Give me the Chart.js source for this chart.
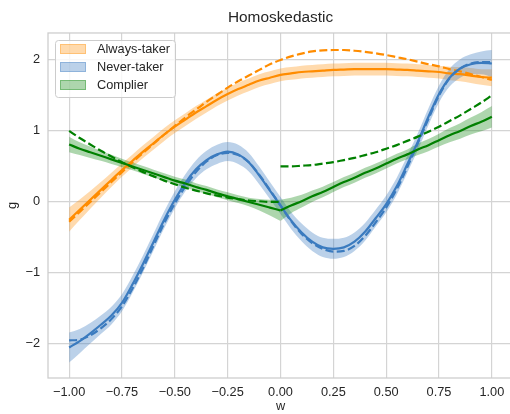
<!DOCTYPE html>
<html>
<head>
<meta charset="utf-8">
<script src="https://cdn.jsdelivr.net/npm/chart.js@4"></script>
<style>
  html, body { margin: 0; padding: 0; overflow: hidden; background: #ffffff; width: 510px; height: 414px; }
  canvas { display: block; }
</style>
</head>
<body>
<canvas id="chart" width="514" height="414" style="width:514px;height:414px"></canvas>
<script>
// Evaluation grid for w
const wGrid = [-1.00, -0.95, -0.90, -0.85, -0.80, -0.75, -0.70, -0.65, -0.60, -0.55,
  -0.50, -0.45, -0.40, -0.35, -0.30, -0.25, -0.20, -0.15, -0.10, -0.05,
  0.00, 0.05, 0.10, 0.15, 0.20, 0.25, 0.30, 0.35, 0.40, 0.45,
  0.50, 0.55, 0.60, 0.65, 0.70, 0.75, 0.80, 0.85, 0.90, 0.95, 1.00];
const wLeft = [-1.00, -0.95, -0.90, -0.85, -0.80, -0.75, -0.70, -0.65, -0.60, -0.55,
  -0.50, -0.45, -0.40, -0.35, -0.30, -0.25, -0.20, -0.15, -0.10, -0.05, 0.00];
const wRight = [0.00, 0.05, 0.10, 0.15, 0.20, 0.25, 0.30, 0.35, 0.40, 0.45,
  0.50, 0.55, 0.60, 0.65, 0.70, 0.75, 0.80, 0.85, 0.90, 0.95, 1.00];

// Always-taker: estimate, true curve, band half-width
const alwaysFit = [-0.25, -0.11, 0.03, 0.17, 0.31, 0.45, 0.58, 0.71, 0.83, 0.95,
  1.06, 1.16, 1.26, 1.35, 1.44, 1.52, 1.59, 1.65, 1.71, 1.75,
  1.79, 1.81, 1.83, 1.84, 1.85, 1.86, 1.865, 1.87, 1.87, 1.87,
  1.87, 1.865, 1.86, 1.85, 1.84, 1.83, 1.81, 1.80, 1.78, 1.76, 1.75];
const alwaysTrue = [-0.28, -0.14, 0.00, 0.14, 0.28, 0.42, 0.56, 0.69, 0.82, 0.95,
  1.07, 1.19, 1.30, 1.41, 1.51, 1.61, 1.70, 1.78, 1.86, 1.94,
  2.00, 2.05, 2.09, 2.12, 2.135, 2.14, 2.14, 2.13, 2.115, 2.095,
  2.07, 2.04, 2.01, 1.975, 1.94, 1.91, 1.87, 1.84, 1.80, 1.76, 1.72];
const alwaysHalf = [0.17, 0.145, 0.125, 0.11, 0.10, 0.095, 0.09, 0.09, 0.09, 0.09,
  0.09, 0.09, 0.09, 0.09, 0.09, 0.09, 0.09, 0.09, 0.09, 0.09,
  0.09, 0.09, 0.09, 0.09, 0.09, 0.09, 0.09, 0.09, 0.09, 0.09,
  0.09, 0.09, 0.09, 0.09, 0.09, 0.09, 0.095, 0.10, 0.105, 0.11, 0.12];

// Never-taker
const neverFit = [-2.05, -1.96, -1.85, -1.73, -1.60, -1.42, -1.16, -0.87, -0.56, -0.25,
  0.03, 0.27, 0.46, 0.59, 0.67, 0.71, 0.67, 0.56, 0.37, 0.16,
  -0.05, -0.26, -0.43, -0.56, -0.64, -0.66, -0.64, -0.56, -0.42, -0.23,
  -0.03, 0.22, 0.53, 0.85, 1.20, 1.52, 1.75, 1.88, 1.94, 1.96, 1.95];
const neverTrue = [-1.95, -1.94, -1.88, -1.78, -1.65, -1.47, -1.22, -0.93, -0.61, -0.30,
  -0.02, 0.22, 0.42, 0.57, 0.66, 0.69, 0.66, 0.56, 0.38, 0.17,
  -0.05, -0.27, -0.45, -0.58, -0.66, -0.70, -0.69, -0.62, -0.48, -0.29,
  -0.08, 0.18, 0.49, 0.83, 1.17, 1.50, 1.74, 1.88, 1.95, 1.97, 1.97];
const neverHalf = [0.21, 0.17, 0.145, 0.13, 0.125, 0.12, 0.12, 0.12, 0.12, 0.12,
  0.12, 0.12, 0.125, 0.13, 0.135, 0.135, 0.135, 0.13, 0.125, 0.12,
  0.12, 0.12, 0.125, 0.13, 0.135, 0.14, 0.135, 0.13, 0.125, 0.12,
  0.12, 0.12, 0.12, 0.12, 0.12, 0.12, 0.125, 0.13, 0.14, 0.16, 0.19];

// Complier (kink / jump at w = 0)
const complierFitLeft = [0.81, 0.75, 0.70, 0.65, 0.60, 0.55, 0.50, 0.45, 0.40, 0.35,
  0.30, 0.26, 0.21, 0.17, 0.12, 0.08, 0.04, 0.00, -0.04, -0.08, -0.12];
const complierFitRight = [-0.12, -0.05, 0.01, 0.08, 0.14, 0.21, 0.28, 0.34, 0.41, 0.47,
  0.54, 0.61, 0.67, 0.74, 0.80, 0.87, 0.94, 1.00, 1.07, 1.13, 1.20];
const complierTrueLeft = [1.00, 0.90, 0.81, 0.72, 0.64, 0.56, 0.49, 0.42, 0.36, 0.30,
  0.25, 0.20, 0.16, 0.12, 0.09, 0.06, 0.04, 0.02, 0.01, 0.00, 0.00];
const complierTrueRight = [0.50, 0.50, 0.51, 0.52, 0.54, 0.56, 0.59, 0.62, 0.66, 0.70,
  0.75, 0.80, 0.86, 0.92, 0.99, 1.06, 1.14, 1.22, 1.31, 1.40, 1.50];
const complierHalfLeft = [0.11, 0.09, 0.08, 0.07, 0.065, 0.06, 0.055, 0.055, 0.055, 0.055,
  0.055, 0.055, 0.055, 0.055, 0.055, 0.055, 0.055, 0.06, 0.08, 0.11, 0.15];
const complierHalfRight = [0.15, 0.11, 0.09, 0.08, 0.075, 0.07, 0.07, 0.07, 0.07, 0.07,
  0.07, 0.07, 0.07, 0.08, 0.085, 0.09, 0.10, 0.11, 0.12, 0.135, 0.15];

const xTicks = [-1.00, -0.75, -0.50, -0.25, 0.00, 0.25, 0.50, 0.75, 1.00];
const yTicks = [-2, -1, 0, 1, 2];
const legendLabels = ['Always-taker', 'Never-taker', 'Complier'];

const FONT = "'Liberation Sans', Arial, sans-serif";
const TEXT = '#262626';
const colors = {
  always: { line: '#ff8c00', band: 'rgba(255,140,0,0.32)' },
  never:  { line: '#3b7bbf', band: 'rgba(59,123,191,0.35)' },
  comp:   { line: '#008000', band: 'rgba(0,128,0,0.32)' }
};

const pts = (xs, ys) => xs.map((x, i) => ({ x: x, y: ys[i] }));
const shift = (ys, hw, s) => ys.map((y, i) => y + s * hw[i]);

const datasets = [];
function addBand(xs, fit, hw, color, order) {
  datasets.push({
    data: pts(xs, shift(fit, hw, -1)), borderWidth: 0, borderColor: 'transparent',
    pointRadius: 0, fill: false, order: order, cubicInterpolationMode: 'monotone'
  });
  datasets.push({
    data: pts(xs, shift(fit, hw, 1)), borderWidth: 0, borderColor: 'transparent',
    backgroundColor: color, pointRadius: 0, fill: '-1', order: order,
    cubicInterpolationMode: 'monotone'
  });
}
function addLine(xs, ys, color, dashed, order) {
  datasets.push({
    data: pts(xs, ys), borderColor: color, borderWidth: 2.2,
    borderDash: dashed ? [8, 3.4] : [], pointRadius: 0, fill: false,
    order: order, cubicInterpolationMode: 'monotone', borderCapStyle: 'butt'
  });
}

// bands sit beneath every line
addBand(wGrid, alwaysFit, alwaysHalf, colors.always.band, 100);
addBand(wGrid, neverFit, neverHalf, colors.never.band, 90);
addBand(wLeft, complierFitLeft, complierHalfLeft, colors.comp.band, 80);
addBand(wRight, complierFitRight, complierHalfRight, colors.comp.band, 80);
addLine(wGrid, alwaysFit, colors.always.line, false, 50);
addLine(wGrid, alwaysTrue, colors.always.line, true, 49);
addLine(wGrid, neverFit, colors.never.line, false, 40);
addLine(wGrid, neverTrue, colors.never.line, true, 39);
addLine(wLeft, complierFitLeft, colors.comp.line, false, 30);
addLine(wRight, complierFitRight, colors.comp.line, false, 30);
addLine(wLeft, complierTrueLeft, colors.comp.line, true, 29);
addLine(wRight, complierTrueRight, colors.comp.line, true, 29);

const fmt = v => String(v).replace('-', '\u2212');

const framePlugin = {
  id: 'frame',
  beforeDatasetsDraw(chart) {
    const { ctx, chartArea: a } = chart;
    ctx.save();
    ctx.strokeStyle = '#cccccc';
    ctx.lineWidth = 1.25;
    ctx.strokeRect(a.left, a.top, a.right - a.left, a.bottom - a.top);
    ctx.restore();
  }
};

const legendPlugin = {
  id: 'boxLegend',
  afterDraw(chart) {
    const { ctx } = chart;
    const entries = [colors.always, colors.never, colors.comp];
    ctx.save();
    ctx.beginPath();
    ctx.roundRect(55.5, 40.5, 120, 57, 3);
    ctx.fillStyle = 'rgba(255,255,255,0.8)';
    ctx.fill();
    ctx.strokeStyle = '#cccccc';
    ctx.lineWidth = 1;
    ctx.stroke();
    ctx.font = '12.75px ' + FONT;
    ctx.textBaseline = 'middle';
    ctx.textAlign = 'left';
    entries.forEach((c, i) => {
      const cy = 49 + i * 18;
      ctx.fillStyle = c.band;
      ctx.fillRect(60, cy - 5, 26, 10);
      ctx.strokeStyle = c.band;
      ctx.lineWidth = 1;
      ctx.strokeRect(60.5, cy - 4.5, 25, 9);
      ctx.fillStyle = TEXT;
      ctx.fillText(legendLabels[i], 97, cy + 0.5);
    });
    ctx.restore();
  }
};

new Chart(document.getElementById('chart'), {
  type: 'line',
  data: { datasets: datasets },
  plugins: [framePlugin, legendPlugin],
  options: {
    responsive: false,
    animation: false,
    events: [],
    layout: { padding: { left: 0, right: 1, top: 0, bottom: 0 } },
    plugins: {
      legend: { display: false },
      tooltip: { enabled: false },
      title: {
        display: true, text: 'Homoskedastic', color: TEXT, fullSize: false,
        font: { family: FONT, size: 15.4, weight: 'normal', lineHeight: 1.2 },
        padding: { top: 8.5, bottom: 6 }
      }
    },
    scales: {
      x: {
        type: 'linear', min: -1.1, max: 1.1,
        afterBuildTicks: s => { s.ticks = xTicks.map(v => ({ value: v })); },
        afterFit: s => { s.height = 36; },
        grid: { color: '#d4d4d4', lineWidth: 1.2, drawTicks: false },
        border: { display: false },
        ticks: {
          color: TEXT, padding: 7, maxRotation: 0, autoSkip: false,
          font: { family: FONT, size: 12.75 },
          callback: v => fmt(Number(v).toFixed(2))
        },
        title: {
          display: true, text: 'w', color: TEXT,
          font: { family: FONT, size: 12.75 }, padding: { top: 0, bottom: 0 }
        }
      },
      y: {
        type: 'linear', min: -2.48, max: 2.38,
        afterBuildTicks: s => { s.ticks = yTicks.map(v => ({ value: v })); },
        afterFit: s => { s.width = 48; },
        grid: { color: '#d4d4d4', lineWidth: 1.2, drawTicks: false },
        border: { display: false },
        ticks: {
          color: TEXT, padding: 8,
          font: { family: FONT, size: 12.75 },
          callback: v => fmt(String(v))
        },
        title: {
          display: true, text: 'g', color: TEXT,
          font: { family: FONT, size: 12.75 }, padding: { top: 4.4, bottom: 0 }
        }
      }
    }
  }
});
</script>
</body>
</html>
